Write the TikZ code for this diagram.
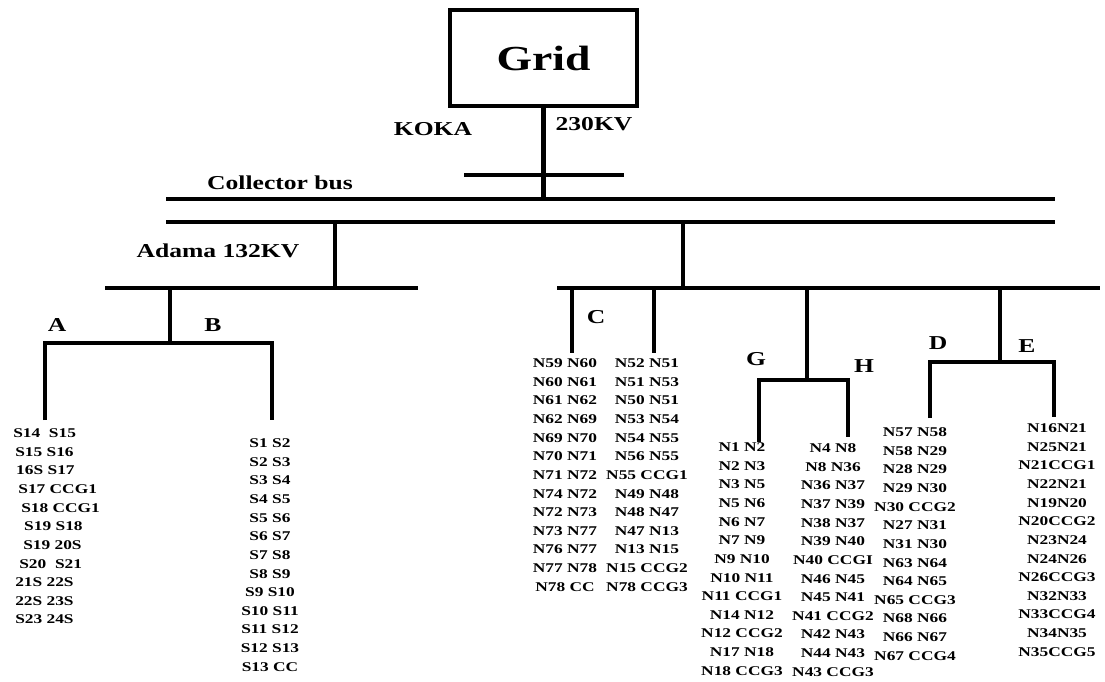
\documentclass[tikz,border=0pt]{standalone}
\usepackage{fontspec}
\setmainfont[FakeStretch=1.3]{Liberation Serif}
\usepackage{tikz}

\begin{document}
\begin{tikzpicture}[x=0.025cm, y=-0.025cm,
  bus/.style={line width=3.1pt, line cap=butt},
  lbl/.style={font=\fontsize{14}{16}\selectfont\bfseries, inner sep=0pt},
  lst/.style={font=\fontsize{9.5}{13.25}\selectfont\bfseries, align=center, anchor=north, inner sep=0pt}]
  \useasboundingbox (0,0) rectangle (1105,682);

  \node[draw, line width=3.1pt, minimum width=4.675cm, minimum height=2.4cm,
        font=\fontsize{25}{28}\selectfont\bfseries] (grid) at (543.5,58) {Grid};
  \node[lbl] (koka) at (433,129) {KOKA};
  \node[lbl] (kv230) at (594,124) {230KV};
  \node[lbl] (collbl) at (280,183) {Collector bus};
  \node[lbl] (adlbl) at (218,251) {Adama 132KV};
  \node[lbl] (la) at (57,325) {A};
  \node[lbl] (lb) at (213,325) {B};
  \node[lbl] (lc) at (596,317) {C};
  \node[lbl] (lg) at (756,359) {G};
  \node[lbl] (lh) at (864,366) {H};
  \node[lbl] (ld) at (938,343) {D};
  \node[lbl] (le) at (1027,346) {E};

  \coordinate (kbw) at (464,175);
  \coordinate (kbe) at (624,175);
  \coordinate (c1w) at (166,199);
  \coordinate (c1e) at (1055,199);
  \coordinate (c2w) at (166,222);
  \coordinate (c2e) at (1055,222);
  \coordinate (adw) at (105,288);
  \coordinate (ade) at (418,288);
  \coordinate (rbw) at (557,288);
  \coordinate (rbe) at (1100,288);

  \draw[bus] (kbw) -- (kbe);
  \draw[bus] (grid.south) -- (grid.south |- c1w);
  \draw[bus] (c1w) -- (c1e);
  \draw[bus] (c2w) -- (c2e);
  \draw[bus] (adw) -- (ade);
  \draw[bus] (rbw) -- (rbe);
  \draw[bus] (335,222) -- (335,288);
  \draw[bus] (683,222) -- (683,288);

  \node[lst, align=left, anchor=north west] (sa) at (13,428.5) {%
    S14\ \ S15\\ \hspace*{1.4pt}S15 S16\\ \hspace*{2.1pt}16S S17\\
    \hspace*{3.6pt}S17 CCG1\\ \hspace*{5.7pt}S18 CCG1\\ \hspace*{7.8pt}S19 S18\\
    \hspace*{7.1pt}S19 20S\\ \hspace*{4.3pt}S20\ \ S21\\ \hspace*{1.4pt}21S 22S\\
    \hspace*{1.4pt}22S 23S\\ \hspace*{1.4pt}S23 24S};
  \node[lst] (sb) at (270,438.5) {S1 S2\\ S2 S3\\ S3 S4\\ S4 S5\\ S5 S6\\ S6 S7\\
    S7 S8\\ S8 S9\\ S9 S10\\ S10 S11\\ S11 S12\\ S12 S13\\ S13 CC};
  \node[lst] (nc1) at (565,358.5) {N59 N60\\ N60 N61\\ N61 N62\\ N62 N69\\ N69 N70\\
    N70 N71\\ N71 N72\\ N74 N72\\ N72 N73\\ N73 N77\\ N76 N77\\ N77 N78\\ N78 CC};
  \node[lst] (nc2) at (647,358.5) {N52 N51\\ N51 N53\\ N50 N51\\ N53 N54\\ N54 N55\\
    N56 N55\\ N55 CCG1\\ N49 N48\\ N48 N47\\ N47 N13\\ N13 N15\\ N15 CCG2\\ N78 CCG3};
  \node[lst] (ng) at (742,442.5) {N1 N2\\ N2 N3\\ N3 N5\\ N5 N6\\ N6 N7\\ N7 N9\\
    N9 N10\\ N10 N11\\ N11 CCG1\\ N14 N12\\ N12 CCG2\\ N17 N18\\ N18 CCG3};
  \node[lst] (nh) at (833,443.5) {N4 N8\\ N8 N36\\ N36 N37\\ N37 N39\\ N38 N37\\
    N39 N40\\ N40 CCGI\\ N46 N45\\ N45 N41\\ N41 CCG2\\ N42 N43\\ N44 N43\\ N43 CCG3};
  \node[lst] (nd) at (915,427.5) {N57 N58\\ N58 N29\\ N28 N29\\ N29 N30\\ N30 CCG2\\
    N27 N31\\ N31 N30\\ N63 N64\\ N64 N65\\ N65 CCG3\\ N68 N66\\ N66 N67\\ N67 CCG4};
  \node[lst] (ne) at (1057,423.5) {N16N21\\ N25N21\\ N21CCG1\\ N22N21\\ N19N20\\
    N20CCG2\\ N23N24\\ N24N26\\ N26CCG3\\ N32N33\\ N33CCG4\\ N34N35\\ N35CCG5};

  \coordinate (ab) at (170,343);
  \coordinate (abl) at (45,343);
  \coordinate (abr) at (272,343);
  \draw[bus] (ab |- adw) -- (ab);
  \draw[bus] (45,420) -- (abl) -- (abr) -- (272,420);

  \draw[bus] (572,288) -- (572,353);
  \draw[bus] (654,288) -- (654,353);

  \coordinate (gh) at (807,380);
  \draw[bus] (gh |- rbw) -- (gh);
  \draw[bus] (759,442) -- (759,380) -- (848,380) -- (848,437);

  \coordinate (de) at (1000,362);
  \draw[bus] (de |- rbw) -- (de);
  \draw[bus] (930,418) -- (930,362) -- (1054,362) -- (1054,417);
\end{tikzpicture}
\end{document}
